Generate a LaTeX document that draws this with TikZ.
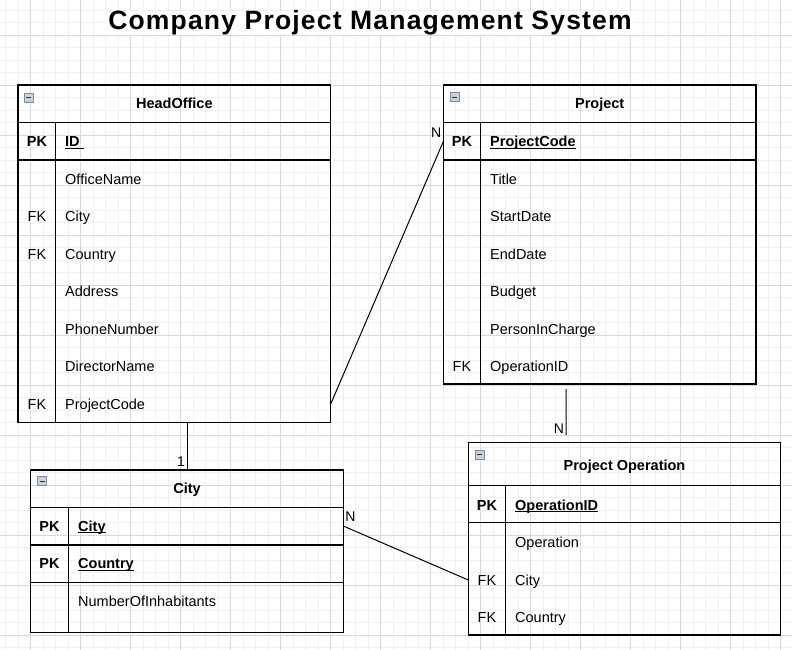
\documentclass[tikz,border=0pt]{standalone}
\usepackage{fontspec}
\setmainfont{Liberation Sans}
\newfontfamily\titlefont[LetterSpace=4.5]{Liberation Sans}
\usetikzlibrary{positioning}
\definecolor{gridminor}{HTML}{F0F0F0}
\definecolor{gridmajor}{HTML}{D9D9D9}
\definecolor{iconfill}{HTML}{C9D1DB}
\definecolor{iconline}{HTML}{7F8A96}
\newcommand\pkname[1]{$\underline{\smash{\mbox{#1}}}$}

\tikzset{
  tbl/.style={draw,line width=1.2pt,anchor=north west,inner sep=0pt,outer sep=0pt},
  sep/.style={line width=1.2pt},
  rel/.style={line width=1pt},
  ttl/.style={fill=white,inner xsep=3pt,inner ysep=0pt,font=\titlefont\bfseries\fontsize{26.5}{30}\selectfont},
  hdr/.style={inner sep=0pt,text height=10pt,text depth=0pt,font=\bfseries\fontsize{14.5}{17}\selectfont},
  fld/.style={anchor=west,inner sep=0pt,text height=10.5pt,text depth=0pt,font=\fontsize{14.5}{17}\selectfont},
  pkey/.style={inner sep=0pt,text height=10.5pt,text depth=0pt,font=\bfseries\fontsize{14.5}{17}\selectfont},
  fkey/.style={inner sep=0pt,text height=10.5pt,text depth=0pt,font=\fontsize{14.5}{17}\selectfont},
  card/.style={inner sep=1.5pt,text height=10pt,text depth=0pt,font=\fontsize{14}{16}\selectfont},
  collapse/.pic={
    \draw[iconline,fill=iconfill,line width=0.6pt] (0,0) rectangle (9,9);
    \draw[black!80,line width=1.3pt] (2,4.5) -- (7,4.5);
  }
}

\begin{document}
\begin{tikzpicture}[x=1pt,y=-1pt]
\useasboundingbox (0,0) rectangle (792,650);
\foreach \i in {0,...,63} \draw[gridminor,line width=0.8pt] (5.7+12.5*\i,0) -- ++(0,650);
\foreach \j in {0,...,51} \draw[gridminor,line width=0.8pt] (0,10+12.5*\j) -- ++(792,0);
\foreach \i in {0,...,15} \draw[gridmajor,line width=0.8pt] (30.7+50*\i,0) -- ++(0,650);
\foreach \j in {0,...,12} \draw[gridmajor,line width=0.8pt] (0,35+50*\j) -- ++(792,0);

\node[ttl] (title) at (370,23) {Company Project Management System};

\node[tbl,minimum width=312.7pt,minimum height=337.5pt] (office) at (18,85) {};
\draw[sep] ([yshift=-37.3pt]office.north west) -- ([yshift=-37.3pt]office.north east);
\draw[sep] ([yshift=-75pt]office.north west) -- ([yshift=-75pt]office.north east);
\draw[sep] ([shift={(37.7pt,-37.3pt)}]office.north west) -- ([xshift=37.7pt]office.south west);
\pic at ([shift={(6.3pt,-8.3pt)}]office.north west) {collapse};
\node[hdr] (officeT) at ([yshift=-18.7pt]office.north) {HeadOffice};
\node[pkey] (officeK0) at (37,141.5) {PK};
\node[fld,font=\bfseries\fontsize{14.5}{17}\selectfont] (office0) at (65,141.5) {\pkname{ID\ }};
\foreach \k/\key/\name in {1//OfficeName,2/FK/City,3/FK/Country,4//Address,5//PhoneNumber,6//DirectorName,7/FK/ProjectCode}{
  \node[fkey] (officeK\k) at (37,141.5+37.5*\k) {\key};
  \node[fld] (office\k) at (65,141.5+37.5*\k) {\name};
}

\node[tbl,minimum width=312.7pt,minimum height=299pt] (project) at (443.3,85) {};
\draw[sep] ([yshift=-37.3pt]project.north west) -- ([yshift=-37.3pt]project.north east);
\draw[sep] ([yshift=-75pt]project.north west) -- ([yshift=-75pt]project.north east);
\draw[sep] ([shift={(37.4pt,-37.3pt)}]project.north west) -- ([xshift=37.4pt]project.south west);
\pic at ([shift={(6.7pt,-7.7pt)}]project.north west) {collapse};
\node[hdr] (projectT) at ([yshift=-18.7pt]project.north) {Project};
\node[pkey] (projectK0) at (462,141.5) {PK};
\node[fld,font=\bfseries\fontsize{14.5}{17}\selectfont] (project0) at (490,141.5) {\pkname{ProjectCode}};
\foreach \k/\key/\name in {1//Title,2//StartDate,3//EndDate,4//Budget,5//PersonInCharge,6/FK/OperationID}{
  \node[fkey] (projectK\k) at (462,141.5+37.5*\k) {\key};
  \node[fld] (project\k) at (490,141.5+37.5*\k) {\name};
}

\node[tbl,minimum width=312.6pt,minimum height=162.3pt] (city) at (30.7,470) {};
\draw[sep] ([yshift=-37.3pt]city.north west) -- ([yshift=-37.3pt]city.north east);
\draw[sep] ([yshift=-75pt]city.north west) -- ([yshift=-75pt]city.north east);
\draw[sep] ([yshift=-112.3pt]city.north west) -- ([yshift=-112.3pt]city.north east);
\draw[sep] ([shift={(37.6pt,-37.3pt)}]city.north west) -- ([xshift=37.6pt]city.south west);
\pic at ([shift={(7pt,-6.7pt)}]city.north west) {collapse};
\node[hdr] (cityT) at ([yshift=-18.7pt]city.north) {City};
\foreach \k/\key/\name in {1/PK/City,2/PK/Country}{
  \node[pkey] (cityK\k) at (49.5,488.5+37.5*\k) {\key};
  \node[fld,font=\bfseries\fontsize{14.5}{17}\selectfont] (city\k) at (78,488.5+37.5*\k) {\pkname{\name}};
}
\node[fkey] (cityK3) at (49.5,601) {};
\node[fld] (city3) at (78,601) {NumberOfInhabitants};

\node[tbl,minimum width=312.4pt,minimum height=192.3pt] (operation) at (468.3,442.7) {};
\draw[sep] ([yshift=-43pt]operation.north west) -- ([yshift=-43pt]operation.north east);
\draw[sep] ([yshift=-80pt]operation.north west) -- ([yshift=-80pt]operation.north east);
\draw[sep] ([shift={(37.4pt,-43pt)}]operation.north west) -- ([xshift=37.4pt]operation.south west);
\pic at ([shift={(6.7pt,-7.3pt)}]operation.north west) {collapse};
\node[hdr] (operationT) at ([yshift=-22.3pt]operation.north) {Project Operation};
\node[pkey] (operationK0) at (487,505) {PK};
\node[fld,font=\bfseries\fontsize{14.5}{17}\selectfont] (operation0) at (515,505) {\pkname{OperationID}};
\foreach \k/\key/\name in {1//Operation,2/FK/City,3/FK/Country}{
  \node[fkey] (operationK\k) at (487,505+37.5*\k) {\key};
  \node[fld] (operation\k) at (515,505+37.5*\k) {\name};
}

\draw[rel] (office.south -| city.north) -- (city.north) node[card,pos=1,above left,yshift=1.5pt] {1};
\draw[rel] (office7 -| office.east) -- (project0 -| project.west) node[card,pos=1,above left,yshift=2pt] {N};
\coordinate (projectOut) at ([shift={(-33.6pt,-5pt)}]project.south);
\coordinate (operationIn) at ([shift={(-58.5pt,7.7pt)}]operation.north);
\draw[rel] (projectOut) -- (operationIn) node[card,pos=1,above left] {N};
\draw[rel] (city1 -| city.east) -- (operation2 -| operation.west) node[card,pos=0,above right,yshift=3pt] {N};
\end{tikzpicture}
\end{document}
